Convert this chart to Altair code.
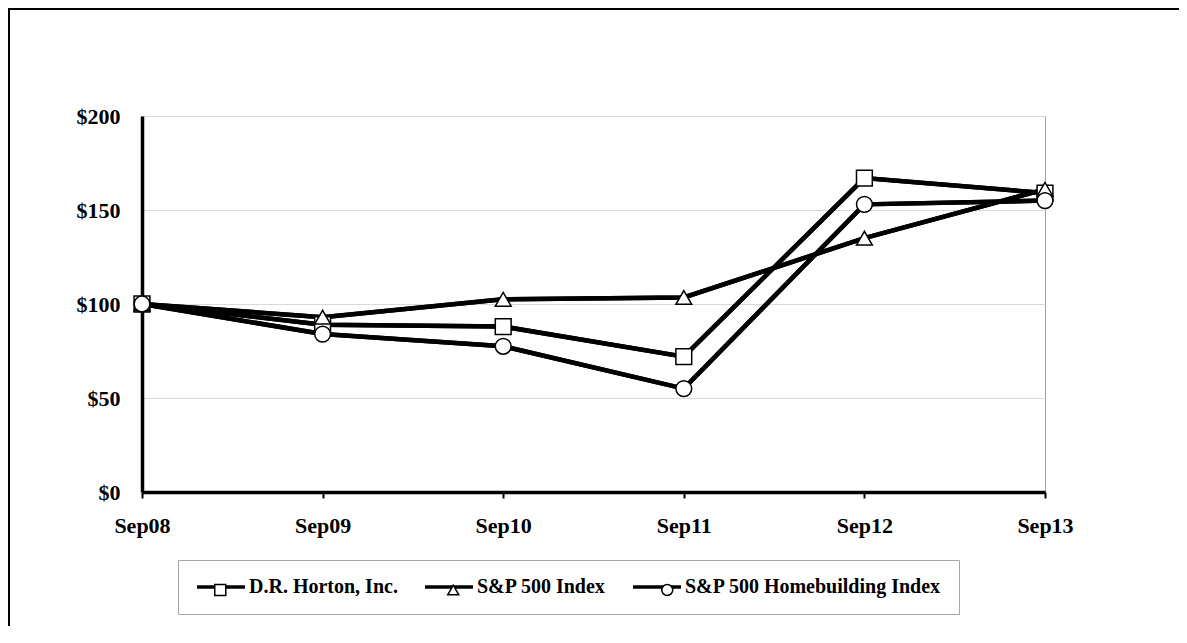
import altair as alt
import pandas as pd

years = ["Sep08", "Sep09", "Sep10", "Sep11", "Sep12", "Sep13"]
series = ["D.R. Horton, Inc.", "S&P 500 Index", "S&P 500 Homebuilding Index"]
horton = [100, 89, 88, 72, 167, 159]
sp500 = [100, 93, 102.5, 103.5, 135, 161]
homebuilding = [100, 84, 77.5, 55, 153, 155]
marker_shapes = ["square", "triangle-up", "circle"]

rows = []
for name, vals in zip(series, [horton, sp500, homebuilding]):
    for yr, v in zip(years, vals):
        rows.append({"year": yr, "series": name, "value": v})
df = pd.DataFrame(rows)

FONT = "Liberation Serif"

x_enc = alt.X(
    "year:O",
    sort=years,
    scale=alt.Scale(type="point", padding=0),
    axis=alt.Axis(
        title=None, labelAngle=0, labelFont=FONT, labelFontWeight="bold",
        labelFontSize=22, labelColor="black", labelPadding=17,
        domainColor="black", domainWidth=3.5, tickColor="black",
        tickWidth=2, tickSize=6, grid=False,
    ),
)
y_enc = alt.Y(
    "value:Q",
    scale=alt.Scale(domain=[0, 200]),
    axis=alt.Axis(
        title=None, values=[0, 50, 100, 150, 200], format="$.0f",
        labelFont=FONT, labelFontWeight="bold", labelFontSize=22,
        labelColor="black", labelPadding=22, ticks=False, tickSize=0,
        domainColor="black", domainWidth=3.5, grid=True,
        gridColor="#d9d9d9", gridWidth=1,
    ),
)

label_style = dict(
    labelFont=FONT, labelFontWeight="bold", labelFontSize=20,
    labelColor="black", labelLimit=500,
)

# outer frame (top and left edges only, as in the reference)
frame = alt.Data(values=[{}])
border_top = alt.Chart(frame).mark_rect(color="black", strokeWidth=0).encode(
    x=alt.value(-134), x2=alt.value(1037), y=alt.value(-108), y2=alt.value(-106)
)
border_left = alt.Chart(frame).mark_rect(color="black", strokeWidth=0).encode(
    x=alt.value(-134), x2=alt.value(-132), y=alt.value(-108), y2=alt.value(510)
)

# main lines + legend box with line stubs and labels
lines = alt.Chart(df).mark_line(strokeWidth=4.5).encode(
    x=x_enc, y=y_enc,
    color=alt.Color(
        "series:N", sort=series,
        scale=alt.Scale(domain=series, range=["black", "black", "black"]),
        legend=alt.Legend(
            title=None, orient="none", legendX=36, legendY=444,
            direction="horizontal", columns=3, columnPadding=25, padding=17,
            symbolType="stroke", symbolSize=2304, clipHeight=20,
            symbolStrokeWidth=3.5, symbolStrokeColor="black",
            labelOffset=2, strokeColor="#a6a6a6", fillColor="white", zindex=1,
            **label_style,
        ),
    ),
)

# one single-entry legend per series: the marker drawn on top of its stub
marker_centers = [74.5, 307.5, 521.5]
marker_layers = []
for name, shp, cx in zip(series, marker_shapes, marker_centers):
    marker_layers.append(
        alt.Chart(df).transform_filter(alt.datum.series == name).mark_line(
            strokeWidth=4.5
        ).encode(
            x=x_enc, y=y_enc,
            color=alt.Color(
                "series:N",
                scale=alt.Scale(domain=[name], range=["black"]),
                legend=alt.Legend(
                    title=None, orient="none", legendX=cx - 6.25, legendY=464,
                    padding=0, symbolType=shp, symbolSize=121,
                    symbolFillColor="white", symbolStrokeColor="black",
                    symbolStrokeWidth=1.5, labelOpacity=0, zindex=2,
                    **label_style,
                ),
            ),
        )
    )

points = alt.Chart(df).mark_point(
    filled=True, fill="white", stroke="black", strokeWidth=1.5, size=250, opacity=1
).encode(
    x=x_enc, y=y_enc,
    shape=alt.Shape(
        "series:N",
        scale=alt.Scale(domain=series, range=marker_shapes),
        legend=None,
    ),
)

chart = alt.layer(border_top, border_left, lines, *marker_layers, points).resolve_scale(
    color="independent"
).resolve_legend(color="independent").properties(
    width=903, height=376,
    autosize=alt.AutoSizeParams(type="none"),
    padding={"left": 134, "top": 108, "right": 134, "bottom": 135},
    background="white",
).configure_view(stroke="#a0a0a0", strokeWidth=1)

chart.save("out.html", embed_options={"renderer": "svg", "actions": False})
